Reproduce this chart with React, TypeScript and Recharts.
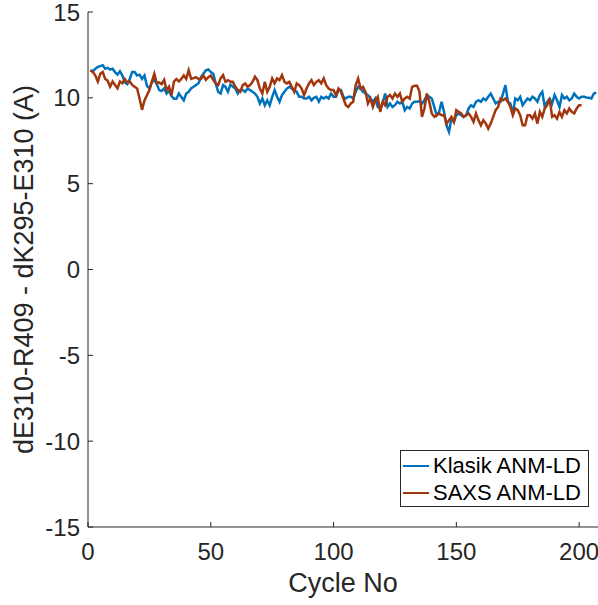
import React from "react";
import { LineChart, Line, XAxis, YAxis, Label } from "recharts";

// values, one per cycle starting at cycle 1
const klasik = [
  11.6, 11.55, 11.7, 11.8, 11.85, 11.9, 11.7, 11.75, 11.65, 11.7, 11.5, 11.35, 11.55, 11.3, 10.9, 10.8, 11.1,
  11.5, 11.5, 11.3, 11.35, 11.1, 11.3, 10.7, 10.55, 10.9, 11.05, 10.8, 10.45, 10.4, 10.55, 10.25, 10.4, 10.1,
  9.95, 9.95, 10.25, 10.05, 9.85, 10.25, 10.35, 10.55, 10.65, 10.75, 10.85, 11.2, 11.4, 11.6, 11.65, 11.5, 11.4,
  10.84, 10.35, 10.25, 10.74, 10.64, 10.35, 10.78, 10.64, 10.54, 10.25, 10.45, 10.45, 10.35, 10.54, 10.45, 10.35,
  10.25, 10.06, 9.67, 9.96, 9.57, 9.86, 9.57, 10.06, 10.45, 10.06, 9.77, 10.16, 10.35, 10.54, 10.64, 10.54, 10.45,
  10.35, 10.06, 10.06, 9.96, 9.96, 10.06, 9.86, 10.0, 10.06, 9.77, 10.06, 9.96, 10.06, 9.96, 10.25, 10.06, 10.06,
  10.45, 10.45, 10.06, 9.96, 10.06, 10.06, 9.96, 10.35, 10.64, 10.54, 10.35, 10.25, 10.16, 9.96, 9.77, 9.96, 9.47,
  9.38, 9.67, 10.25, 9.47, 9.67, 9.47, 9.57, 9.77, 9.67, 9.77, 9.28, 9.47, 9.38, 9.67, 9.77, 9.77, 9.81, 9.67,
  9.86, 10.16, 10.06, 9.96, 9.47, 8.99, 9.18, 9.77, 9.18, 8.4, 8.02, 8.79, 8.6, 8.99, 9.09, 8.99, 8.89, 8.99,
  9.38, 9.57, 9.47, 9.77, 9.86, 9.77, 9.96, 9.86, 10.06, 10.25, 9.96, 9.67, 9.77, 9.77, 10.25, 10.74, 9.77, 9.67,
  9.09, 9.96, 9.86, 10.06, 9.57, 9.77, 9.96, 9.86, 10.06, 9.96, 9.77, 10.16, 10.35, 9.47, 9.77, 9.96, 9.67, 10.16,
  9.86, 9.47, 10.16, 9.96, 10.06, 9.86, 9.96, 10.25, 10.06, 9.96, 10.06, 10.06, 10.02, 10.0, 9.96, 10.25, 10.3,
];

const saxs = [
  11.6, 11.5, 11.3, 10.95, 11.4, 11.5, 11.1, 11.0, 10.65, 10.95, 10.75, 10.55, 10.95, 10.85, 11.1, 10.9, 10.95,
  10.75, 10.65, 10.55, 9.95, 9.3, 9.85, 10.15, 10.45, 10.95, 11.4, 10.85, 10.9, 10.8, 11.05, 10.45, 10.65, 10.15,
  10.95, 11.1, 10.95, 11.1, 11.3, 11.1, 11.6, 11.1, 11.15, 11.2, 11.1, 11.1, 11.3, 11.05, 11.2, 11.3, 11.05,
  10.84, 10.74, 11.13, 11.32, 10.93, 11.03, 10.93, 10.93, 10.64, 10.45, 10.35, 10.74, 10.84, 10.64, 10.74, 10.93,
  11.23, 11.03, 10.54, 10.25, 10.93, 10.35, 10.64, 11.13, 10.84, 11.13, 11.03, 11.32, 10.93, 10.84, 10.93, 10.64,
  10.35, 10.84, 10.74, 10.54, 10.16, 10.54, 10.84, 11.03, 10.74, 10.93, 11.03, 10.84, 11.13, 10.74, 10.54, 10.45,
  10.45, 10.16,
  10.54, 10.35, 9.96, 9.57, 9.47, 9.67, 9.77, 10.74, 11.13, 10.54, 10.64, 10.35, 9.67, 9.96, 9.47, 9.86, 10.06,
  9.18, 9.77, 9.57, 10.06, 10.16, 9.96, 10.25, 10.06, 10.25, 9.77, 9.96, 10.06, 9.96, 10.64, 10.7, 10.7, 10.35,
  8.89, 9.38, 10.25, 9.77, 9.09, 8.89, 8.99, 9.09, 8.99, 8.99, 8.5, 8.7, 8.89, 8.6, 9.28, 9.18, 9.09, 8.89, 8.99,
  9.09, 8.89, 8.6, 9.09, 8.7, 8.4, 8.7, 8.5, 8.21, 8.5, 8.89, 9.28, 9.47, 9.96, 9.86, 9.96, 9.77, 9.47, 8.99,
  9.38, 9.28, 8.99, 8.4, 8.4, 8.99, 8.99, 8.79, 9.09, 8.5, 9.18, 8.89, 9.38, 9.57, 9.96, 8.89, 8.99, 8.79, 9.18,
  8.89, 9.28, 9.09, 9.38, 9.18, 9.09, 9.38, 9.57, 9.57,
];

const seriesNames = ["Klasik ANM-LD", "SAXS ANM-LD"];
const xTicks = [0, 50, 100, 150, 200];
const yTicks = [-15, -10, -5, 0, 5, 10, 15];

const BLUE = "#0072BD";
const RED = "#A2360C";
const AXIS = "#262626";
const FONT = "'Liberation Sans', Arial, Helvetica, sans-serif";

const data = klasik.map((v, i) => ({
  cycle: i + 1,
  klasik: v,
  saxs: i < saxs.length ? saxs[i] : undefined,
}));

export default function App() {
  return (
    <div style={{ position: "absolute", left: 0, top: 0, width: 598, height: 605, overflow: "hidden", background: "#fff" }}>
      <LineChart width={600} height={605} data={data} margin={{ top: 12, right: 0, bottom: 0, left: 0 }}>
        <XAxis
          xAxisId="top"
          orientation="top"
          type="number"
          dataKey="cycle"
          domain={[0, 208.5]}
          ticks={xTicks}
          height={0}
          tick={false}
          tickSize={-5}
          stroke={AXIS}
        />
        <XAxis
          type="number"
          dataKey="cycle"
          domain={[0, 208.5]}
          ticks={xTicks}
          height={78}
          tickSize={-5}
          tickMargin={21}
          stroke={AXIS}
          tick={{ fill: AXIS, fontSize: 24, fontFamily: FONT }}
          interval={0}
        >
          <Label
            content={() => (
              <text x={343} y={592} textAnchor="middle" fill={AXIS} fontSize={27} fontFamily={FONT}>
                Cycle No
              </text>
            )}
          />
        </XAxis>
        <YAxis
          type="number"
          domain={[-15, 15]}
          ticks={yTicks}
          width={88}
          tickSize={-5}
          tickMargin={13}
          stroke={AXIS}
          tick={{ fill: AXIS, fontSize: 24, fontFamily: FONT }}
          interval={0}
        >
          <Label
            content={() => (
              <text
                x={24}
                y={269.5}
                transform="rotate(-90 24 269.5)"
                textAnchor="middle"
                dominantBaseline="central"
                fill={AXIS}
                fontSize={27}
                fontFamily={FONT}
              >
                dE310-R409 - dK295-E310 (A)
              </text>
            )}
          />
        </YAxis>
        <Line
          dataKey="klasik"
          name={seriesNames[0]}
          stroke={BLUE}
          strokeWidth={2.5}
          dot={false}
          isAnimationActive={false}
        />
        <Line
          dataKey="saxs"
          name={seriesNames[1]}
          stroke={RED}
          strokeWidth={2.5}
          dot={false}
          connectNulls={false}
          isAnimationActive={false}
        />
      </LineChart>
      <div
        style={{
          position: "absolute",
          left: 400,
          top: 450,
          width: 189,
          height: 57,
          border: `1px solid ${AXIS}`,
          background: "#fff",
          fontFamily: FONT,
          fontSize: 22,
          color: "#000",
          boxSizing: "border-box",
        }}
      >
        {seriesNames.map((name, i) => (
          <div key={name} style={{ position: "absolute", left: 2, top: 3 + i * 27, height: 24, display: "flex", alignItems: "center" }}>
            <span style={{ display: "inline-block", width: 26, height: 2, background: i === 0 ? BLUE : RED, marginRight: 4 }} />
            <span style={{ lineHeight: "24px", whiteSpace: "nowrap" }}>{name}</span>
          </div>
        ))}
      </div>
    </div>
  );
}
